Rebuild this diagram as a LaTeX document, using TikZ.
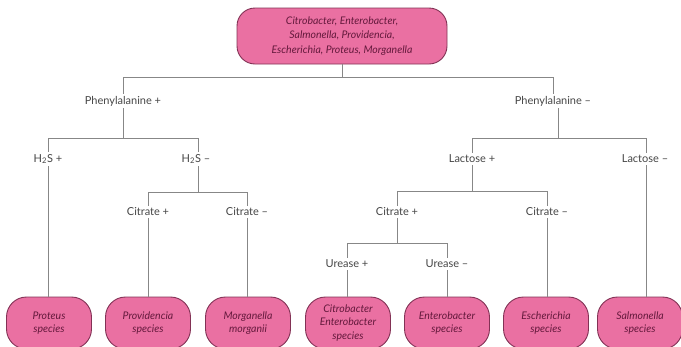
\documentclass[tikz,border=0pt]{standalone}
\usepackage{fontspec}
\setmainfont{Lato}
\definecolor{boxfill}{RGB}{234,112,162}
\definecolor{boxline}{RGB}{130,50,85}
\definecolor{boxtext}{RGB}{100,25,60}
\definecolor{conn}{RGB}{135,135,135}
\definecolor{labtext}{RGB}{70,70,70}
\begin{document}
\begin{tikzpicture}[x=1pt,y=-1pt,
  leaf/.style={draw=boxline,fill=boxfill,line width=0.9pt,rounded corners=20pt,
    minimum width=85pt,minimum height=52pt,align=center,text=boxtext,
    font=\fontsize{10.5}{13.5}\selectfont\itshape,inner sep=2pt},
  topbox/.style={draw=boxline,fill=boxfill,line width=0.9pt,rounded corners=18pt,
    minimum width=210pt,minimum height=56pt,align=center,text=boxtext,
    font=\fontsize{10.5}{14.5}\selectfont\itshape},
  lab/.style={font=\fontsize{11}{12}\selectfont,text=labtext,inner sep=2pt,fill=white},
  ln/.style={draw=conn,line width=0.9pt}]
\useasboundingbox (0,0) rectangle (681,346);
\clip (0,0) rectangle (681,346);
% top box
\node[topbox] (top) at (342,36) {Citrobacter, Enterobacter,\\Salmonella, Providencia,\\Escherichia, Proteus, Morganella};
% labels
\node[lab] (pp) at (123,101) {Phenylalanine +};
\node[lab] (pm) at (553,101) {Phenylalanine –};
\node[lab] (hp) at (48,159) {H\textsubscript{2}S +};
\node[lab] (hm) at (196,159) {H\textsubscript{2}S –};
\node[lab] (cp1) at (148,212) {Citrate +};
\node[lab] (cm1) at (247,212) {Citrate –};
\node[lab] (lp) at (472,159) {Lactose +};
\node[lab] (lm) at (645,159) {Lactose –};
\node[lab] (cp2) at (397,212) {Citrate +};
\node[lab] (cm2) at (547,212) {Citrate –};
\node[lab] (up) at (347,264) {Urease +};
\node[lab] (um) at (447,264) {Urease –};
% leaves
\node[leaf] (l1) at (49,323) {Proteus\\species};
\node[leaf] (l2) at (148,323) {Providencia\\species};
\node[leaf] (l3) at (248,323) {Morganella\\morganii};
\node[leaf] (l4) at (348,323) {Citrobacter\\Enterobacter\\species};
\node[leaf] (l5) at (447,323) {Enterobacter\\species};
\node[leaf] (l6) at (546,323) {Escherichia\\species};
\node[leaf] (l7) at (640,323) {Salmonella\\species};
% connectors
\coordinate (j0) at (342,77);
\draw[ln] (top.south) -- (j0);
\draw[ln] (pp.north) -- (123,77) -- (553,77) -- (pm.north);
% phenylalanine +
\draw[ln] (pp.south) -- (123,138);
\draw[ln] (hp.north) -- (48,138) -- (198,138) -- (hm.north -| 198,0);
\draw[ln] (hp.south -| 48,0) -- (l1.north -| 48,0);
\draw[ln] (hm.south -| 198,0) -- (198,192);
\draw[ln] (cp1.north) -- (148,192) -- (247,192) -- (cm1.north);
\draw[ln] (cp1.south) -- (l2.north);
\draw[ln] (cm1.south) -- (l3.north -| cm1.south);
% phenylalanine -
\draw[ln] (pm.south -| 558,0) -- (558,138);
\draw[ln] (lp.north) -- (472,138) -- (646,138) -- (lm.north -| 646,0);
\draw[ln] (lm.south -| 646,0) -- (l7.north -| 646,0);
\draw[ln] (lp.south) -- (472,191);
\draw[ln] (cp2.north) -- (397,191) -- (547,191) -- (cm2.north);
\draw[ln] (cm2.south) -- (l6.north -| cm2.south);
\draw[ln] (cp2.south) -- (397,243);
\draw[ln] (up.north) -- (347,243) -- (447,243) -- (um.north);
\draw[ln] (up.south) -- (l4.north -| up.south);
\draw[ln] (um.south) -- (l5.north);
\end{tikzpicture}
\end{document}
